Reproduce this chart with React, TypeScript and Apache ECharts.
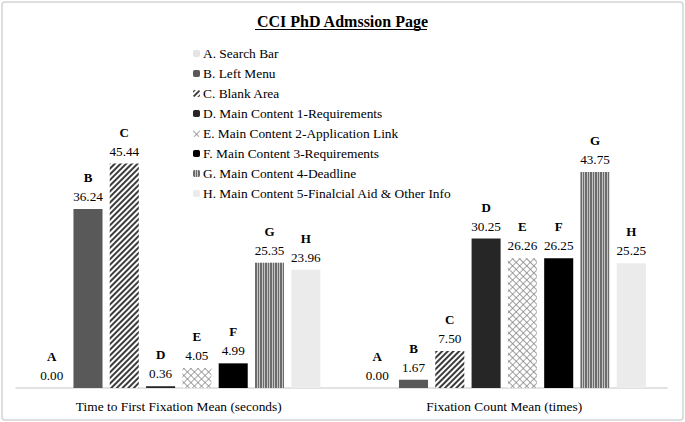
import React, { useEffect, useRef } from "react";
import * as echarts from "echarts";

const categories = ["Time to First Fixation Mean (seconds)", "Fixation Count Mean (times)"];
const seriesNames = [
  "A. Search Bar",
  "B. Left Menu",
  "C. Blank Area",
  "D. Main Content 1-Requirements",
  "E. Main Content 2-Application Link",
  "F. Main Content 3-Requirements",
  "G. Main Content 4-Deadline",
  "H. Main Content 5-Finalcial Aid & Other Info",
];
const seriesA = [0.0, 0.0];
const seriesB = [36.24, 1.67];
const seriesC = [45.44, 7.5];
const seriesD = [0.36, 30.25];
const seriesE = [4.05, 26.26];
const seriesF = [4.99, 26.25];
const seriesG = [25.35, 43.75];
const seriesH = [23.96, 25.25];
const seriesValues = [seriesA, seriesB, seriesC, seriesD, seriesE, seriesF, seriesG, seriesH];

const FONT = "Liberation Serif";

const none = { symbol: "none" };
const styles: any[] = [
  { color: "#e4e4e4", decal: none },
  { color: "#595959", decal: none },
  {
    color: "#ffffff",
    decal: {
      symbol: "rect",
      symbolSize: 1,
      dashArrayX: [1, 0],
      dashArrayY: [2, 2],
      rotation: -Math.PI / 4,
      color: "#3c3c3c",
    },
  },
  { color: "#262626", decal: none },
  {
    color: "#ffffff",
    decal: {
      symbol: "path://M0 0H10V1.4H0Z M0 0H1.4V10H0Z",
      symbolSize: 1,
      symbolKeepAspect: false,
      dashArrayX: [5, 0],
      dashArrayY: [5, 0],
      rotation: Math.PI / 4,
      color: "#808080",
    },
  },
  { color: "#000000", decal: none },
  {
    color: "#c4c4c4",
    decal: {
      symbol: "rect",
      symbolSize: 1,
      dashArrayX: [2, 1, 1, 1],
      dashArrayY: [1, 0],
      rotation: 0,
      color: "#6c6c6c",
    },
  },
  { color: "#ebebeb", decal: none },
];

export default function App() {
  const ref = useRef<HTMLDivElement>(null);
  useEffect(() => {
    if (!ref.current) return;
    const chart = echarts.init(ref.current, null, { renderer: "svg" });
    const series = seriesNames.map((name, i) => ({
      type: "bar",
      name,
      data: seriesValues[i],
      barGap: "25%",
      barCategoryGap: "13%",
      itemStyle: { color: styles[i].color, decal: styles[i].decal },
      label: {
        show: true,
        position: "top",
        distance: 3,
        fontFamily: FONT,
        fontSize: 13,
        formatter: (p: any) => `{l|${name.charAt(0)}}\n{v|${Number(p.value).toFixed(2)}}`,
        rich: {
          l: { fontFamily: FONT, fontWeight: "bold", fontSize: 13, lineHeight: 19, color: "#000" },
          v: { fontFamily: FONT, fontSize: 13.2, lineHeight: 19, color: "#000" },
        },
      },
    }));
    chart.setOption({
      animation: false,
      aria: { enabled: true, decal: { show: true } },
      backgroundColor: "#ffffff",
      textStyle: { fontFamily: FONT },
      title: {
        text: "CCI PhD Admssion Page",
        left: "center",
        top: 8,
        textStyle: { fontFamily: FONT, fontWeight: "bold", fontSize: 16, color: "#000" },
      },
      graphic: [
        {
          type: "rect",
          shape: { x: 2, y: 2, width: 681, height: 418, r: 3 },
          style: { fill: "none", stroke: "#d4d4d4", lineWidth: 1.5 },
          silent: true,
        },
        {
          type: "line",
          shape: { x1: 255, y1: 29.5, x2: 427, y2: 29.5 },
          style: { stroke: "#000", lineWidth: 1 },
          silent: true,
        },
      ],
      legend: {
        orient: "vertical",
        left: 188,
        top: 42,
        itemWidth: 7,
        itemHeight: 7,
        itemGap: 7,
        textStyle: { fontFamily: FONT, fontSize: 13.4, color: "#000", padding: [0, 0, 0, -2] },
        data: seriesNames,
      },
      grid: { left: 16, right: 18, top: 141, bottom: 34 },
      xAxis: {
        type: "category",
        data: categories,
        axisLine: { lineStyle: { color: "#d9d9d9", width: 1.5 } },
        axisTick: { show: false },
        axisLabel: { fontFamily: FONT, fontSize: 13.4, color: "#000", margin: 12 },
      },
      yAxis: {
        type: "value",
        min: 0,
        max: 50,
        show: false,
        splitLine: { show: false },
      },
      series,
    });
    return () => chart.dispose();
  }, []);
  return (
    <div
      ref={ref}
      style={{ position: "absolute", left: 0, top: 0, width: 685, height: 422 }}
    />
  );
}
